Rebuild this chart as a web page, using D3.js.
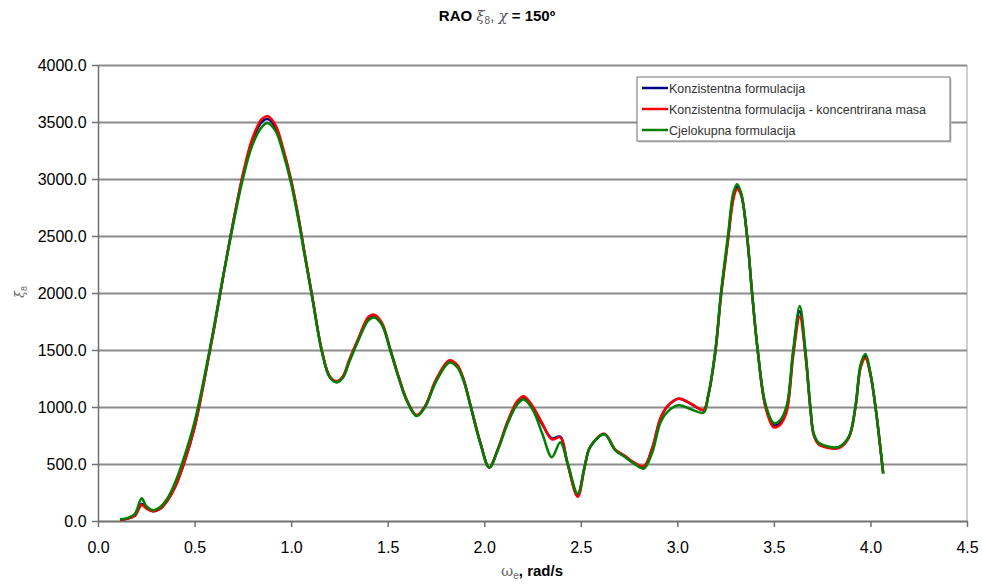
<!DOCTYPE html>
<html>
<head>
<meta charset="utf-8">
<script src="https://cdn.jsdelivr.net/npm/d3@7"></script>
<style>
  html, body { margin: 0; padding: 0; background: #fff; overflow: hidden; }
  svg { display: block; font-family: "Liberation Sans", Arial, sans-serif; }
</style>
</head>
<body>
<div id="chart"></div>
<script>
// --- Data ---
const omega = [0.114, 0.15, 0.19, 0.226, 0.25, 0.285, 0.32, 0.36, 0.40, 0.45, 0.50, 0.55, 0.60, 0.65, 0.70, 0.75, 0.80, 0.85, 0.88, 0.92, 0.96, 1.00, 1.04, 1.07, 1.11, 1.16, 1.20, 1.237, 1.27, 1.30, 1.35, 1.40, 1.43, 1.47, 1.513, 1.56, 1.60, 1.65, 1.694, 1.75, 1.82, 1.86, 1.893, 1.93, 1.98, 2.026, 2.07, 2.12, 2.17, 2.204, 2.25, 2.30, 2.35, 2.394, 2.43, 2.484, 2.52, 2.549, 2.622, 2.679, 2.73, 2.77, 2.826, 2.87, 2.912, 2.95, 3.007, 3.07, 3.136, 3.16, 3.197, 3.226, 3.262, 3.29, 3.309, 3.33, 3.361, 3.387, 3.416, 3.456, 3.499, 3.53, 3.565, 3.60, 3.634, 3.663, 3.689, 3.706, 3.73, 3.758, 3.836, 3.888, 3.922, 3.95, 3.974, 4.00, 4.026, 4.066];

const konzistentna = [10, 20, 45, 150, 120, 85, 105, 180, 300, 530, 820, 1230, 1680, 2160, 2620, 3030, 3340, 3505, 3525, 3450, 3245, 2985, 2640, 2345, 1960, 1485, 1265, 1220, 1270, 1400, 1600, 1780, 1800, 1730, 1505, 1245, 1055, 925, 1005, 1230, 1400, 1360, 1240, 1005, 685, 470, 625, 860, 1040, 1085, 1000, 850, 725, 740, 515, 220, 475, 650, 762, 622, 565, 515, 478, 638, 898, 1008, 1073, 1028, 973, 1100, 1490, 1985, 2470, 2840, 2930, 2870, 2500, 2000, 1500, 1015, 840, 855, 975, 1475, 1840, 1480, 990, 760, 680, 655, 645, 735, 995, 1360, 1445, 1290, 1000, 418];

const koncentriranaMasa = [10, 20, 45, 140, 110, 85, 105, 180, 300, 530, 820, 1230, 1680, 2160, 2620, 3040, 3360, 3530, 3550, 3470, 3260, 2990, 2650, 2350, 1965, 1490, 1270, 1225, 1275, 1410, 1610, 1790, 1810, 1740, 1510, 1250, 1060, 930, 1010, 1240, 1410, 1370, 1245, 1010, 690, 470, 630, 870, 1050, 1095, 1010, 860, 716, 734, 510, 212, 470, 650, 765, 625, 570, 520, 480, 640, 900, 1010, 1075, 1030, 975, 1100, 1480, 1970, 2450, 2820, 2910, 2860, 2500, 2000, 1500, 1000, 822, 840, 950, 1450, 1792, 1460, 980, 755, 675, 650, 640, 730, 990, 1350, 1427, 1280, 1000, 418];

const cjelokupna = [15, 25, 60, 200, 130, 95, 120, 200, 340, 580, 870, 1260, 1700, 2170, 2600, 3000, 3300, 3460, 3490, 3420, 3220, 2960, 2620, 2330, 1950, 1480, 1260, 1215, 1260, 1390, 1590, 1760, 1785, 1720, 1500, 1240, 1050, 920, 1000, 1220, 1390, 1350, 1230, 1000, 680, 470, 620, 850, 1020, 1065, 980, 770, 560, 690, 520, 240, 480, 650, 760, 620, 560, 510, 460, 600, 860, 960, 1015, 980, 950, 1100, 1500, 2000, 2500, 2880, 2955, 2880, 2500, 2000, 1500, 1030, 860, 880, 1003, 1500, 1885, 1500, 1000, 770, 690, 665, 650, 740, 1003, 1380, 1465, 1300, 1003, 418];

const seriesNames = ["Konzistentna formulacija", "Konzistentna formulacija - koncentrirana masa", "Cjelokupna formulacija"];
const seriesColors = ["#000080", "#ff0000", "#008000"];
const xTicks = [0, 0.5, 1, 1.5, 2, 2.5, 3, 3.5, 4, 4.5];
const yTicks = [0, 500, 1000, 1500, 2000, 2500, 3000, 3500, 4000];

// --- Layout ---
const width = 982, height = 584;
const margin = { top: 65, right: 15, bottom: 63, left: 98 };
const innerWidth = width - margin.left - margin.right;
const innerHeight = height - margin.top - margin.bottom;

const svg = d3.select("#chart").append("svg")
  .attr("width", width)
  .attr("height", height);

const g = svg.append("g")
  .attr("transform", `translate(${margin.left},${margin.top})`);

const xScale = d3.scaleLinear().domain([0, 4.5]).range([0, innerWidth]);
const yScale = d3.scaleLinear().domain([0, 4000]).range([innerHeight, 0]);

// plot border (right side)
g.append("line")
  .attr("x1", innerWidth).attr("x2", innerWidth)
  .attr("y1", 0).attr("y2", innerHeight)
  .attr("stroke", "#a0a0a0").attr("stroke-width", 1);

// --- Grid Lines ---
g.append("g")
  .call(d3.axisLeft(yScale).tickValues(yTicks.slice(1)).tickSize(-innerWidth).tickFormat(""))
  .call(g => g.select(".domain").remove())
  .call(g => g.selectAll(".tick line").attr("stroke", "#8c8c8c").attr("stroke-width", 2));

// --- Axes ---
g.append("g")
  .attr("transform", `translate(0,${innerHeight})`)
  .call(d3.axisBottom(xScale).tickValues(xTicks).tickSize(6).tickSizeOuter(0).tickFormat(d3.format(".1f")))
  .call(g => g.select(".domain").attr("stroke", "#707070").attr("stroke-width", 2))
  .call(g => g.selectAll(".tick line").attr("stroke", "#707070").attr("stroke-width", 1.5))
  .call(g => g.selectAll(".tick text").attr("font-size", "16px").attr("fill", "#000").attr("dy", "1.45em"));

g.append("g")
  .call(d3.axisLeft(yScale).tickValues(yTicks).tickSize(6).tickSizeOuter(0).tickFormat(d3.format(".1f")))
  .call(g => g.select(".domain").attr("stroke", "#707070").attr("stroke-width", 1.5))
  .call(g => g.selectAll(".tick line").attr("stroke", "#707070").attr("stroke-width", 1.5))
  .call(g => g.selectAll(".tick text").attr("font-size", "16px").attr("fill", "#000").attr("dx", "-0.15em"));

// --- Lines ---
const allSeries = [konzistentna, koncentriranaMasa, cjelokupna];
const line = d3.line()
  .x((d, i) => xScale(omega[i]))
  .y(d => yScale(d))
  .curve(d3.curveCatmullRom.alpha(0.5));

g.selectAll(".series")
  .data(allSeries)
  .join("path")
  .attr("class", "series")
  .attr("fill", "none")
  .attr("stroke", (d, i) => seriesColors[i])
  .attr("stroke-width", 2.5)
  .attr("stroke-linejoin", "round")
  .attr("d", line);

// --- Legend ---
const legend = svg.append("g").attr("transform", "translate(637,77)");
legend.append("rect")
  .attr("x", 1.5).attr("y", 1.5).attr("width", 313).attr("height", 64)
  .attr("fill", "#c8c8c8");
legend.append("rect")
  .attr("width", 313).attr("height", 64)
  .attr("fill", "#fff").attr("stroke", "#707070").attr("stroke-width", 1);

seriesNames.forEach((name, i) => {
  const ly = 11 + i * 21;
  legend.append("line")
    .attr("x1", 5).attr("x2", 31).attr("y1", ly).attr("y2", ly)
    .attr("stroke", seriesColors[i]).attr("stroke-width", 2.5);
  legend.append("text")
    .attr("x", 32).attr("y", ly + 4.5)
    .attr("font-size", "12.5px")
    .attr("fill", "#333")
    .text(name);
});

// --- Title & axis labels ---
const title = svg.append("text")
  .attr("x", 497).attr("y", 21)
  .attr("text-anchor", "middle")
  .attr("font-size", "15px")
  .attr("font-weight", "bold");
title.append("tspan").text("RAO ");
title.append("tspan").attr("font-weight", "normal").attr("fill", "#555").attr("font-family", "DejaVu Serif").attr("font-style", "italic").text("ξ");
title.append("tspan").attr("font-weight", "normal").attr("fill", "#555").attr("font-size", "10px").attr("dy", 3).text("8");
title.append("tspan").attr("font-weight", "normal").attr("fill", "#555").attr("dy", -3).text(", ");
title.append("tspan").attr("font-weight", "normal").attr("fill", "#555").attr("font-family", "DejaVu Serif").attr("font-style", "italic").text("χ");
title.append("tspan").text(" = 150º");

const xLabel = svg.append("text")
  .attr("x", 532).attr("y", 576)
  .attr("text-anchor", "middle")
  .attr("font-size", "15px")
  .attr("font-weight", "bold");
xLabel.append("tspan").attr("font-weight", "normal").attr("fill", "#666").attr("font-family", "DejaVu Serif").text("ω");
xLabel.append("tspan").attr("font-weight", "normal").attr("fill", "#666").attr("font-size", "10px").attr("dy", 3).text("e");
xLabel.append("tspan").attr("dy", -3).text(", rad/s");

const yLabel = svg.append("text")
  .attr("transform", "translate(24,292) rotate(-90)")
  .attr("text-anchor", "middle")
  .attr("font-size", "13px")
  .attr("fill", "#666");
yLabel.append("tspan").attr("font-family", "DejaVu Serif").attr("font-style", "italic").text("ξ");
yLabel.append("tspan").attr("font-size", "9px").attr("dy", 3).text("8");
</script>
</body>
</html>
